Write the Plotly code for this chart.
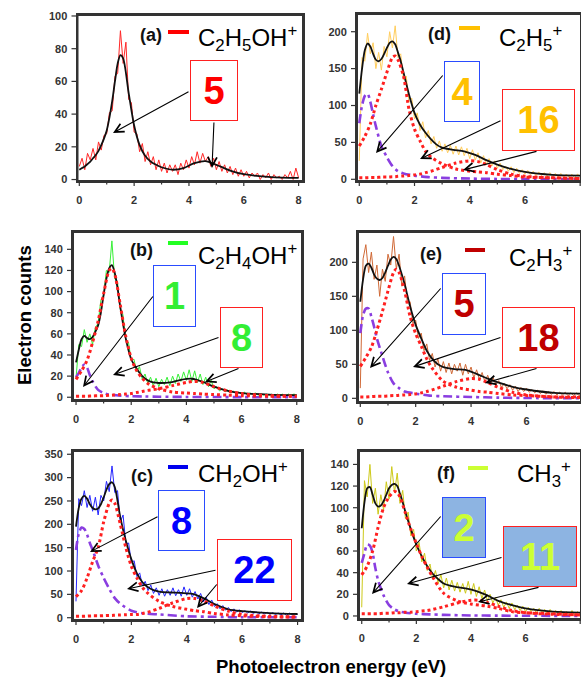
import plotly.graph_objects as go

W, H = 581, 679
FONT = "Liberation Sans, Arial, Helvetica, sans-serif"

# ---------------- data ----------------
raw_energy = [round(i * 0.1, 1) for i in range(81)]
fit_energy = [0, 0.1, 0.2, 0.3, 0.4, 0.5, 0.6, 0.7, 0.8, 0.9, 1.0, 1.1, 1.2, 1.3, 1.4, 1.5, 1.6,
              1.8, 2.0, 2.2, 2.4, 2.6, 2.8, 3.0, 3.4, 3.8, 4.2, 4.6, 5.0, 5.5, 6.0, 7.0, 8.0]
peak_energy = [0, 0.2, 0.4, 0.6, 0.8, 1.0, 1.2, 1.3, 1.4, 1.6, 1.8, 2.0, 2.2, 2.4, 2.6, 3.0,
               3.5, 4.0, 4.3, 4.6, 5.0, 5.5, 6.0, 7.0, 8.0]
low_energy = [0, 0.1, 0.2, 0.3, 0.4, 0.5, 0.6, 0.8, 1.0, 1.2, 1.4, 1.6, 2.0, 2.5, 3.0, 4.0,
              5.0, 6.0, 8.0]

# (a) C2H5OH+
raw_a = [8, 13, 6, 16, 12, 19, 12, 23, 18, 27,
         28, 41, 42, 63, 65, 91, 71, 84, 49, 47,
         29, 28, 17, 22, 11, 17, 9, 14, 6, 12,
         5, 10, 4, 9, 5, 9, 3, 10, 6, 12,
         7, 14, 9, 17, 10, 16, 11, 14, 8, 13,
         6, 11, 5, 9, 4, 8, 3, 7, 2, 6,
         2, 5, 1, 4, 2, 4, 0, 3, 1, 4,
         0, 3, 1, 2, 0, 3, 1, 5, 0, 7,
         1]
fit_a = [6, 7, 8, 9.5, 11, 13, 15, 17.5, 21, 25, 30, 38, 48, 60, 71, 76, 74,
         53, 33, 21, 14.5, 11, 9, 7.5, 6, 7, 10, 11.3, 9, 5.5, 3.3, 1.5, 1]

# (b) C2H4OH+
raw_b = [18, 50, 48, 64, 52, 60, 50, 66, 70, 92,
         96, 120, 118, 148, 112, 110, 84, 78, 54, 52,
         35, 36, 24, 29, 17, 22, 13, 19, 11, 18,
         10, 17, 12, 19, 11, 20, 13, 22, 15, 24,
         16, 26, 15, 25, 14, 22, 12, 19, 10, 16,
         8, 10, 6, 8, 5, 7, 4, 6, 3, 5,
         3, 5, 2, 4, 3, 4, 2, 3, 2, 3,
         2, 3, 1, 3, 2, 3, 1, 3, 2, 3,
         2]
fit_b = [33, 45, 55, 58, 56, 55, 57, 62, 68, 80, 97, 112, 122, 125, 118, 104, 86,
         56, 36, 27, 20, 16, 14, 13.5, 14, 16.5, 17.5, 14.5, 10, 6, 4, 2.5, 2]
big_b = [17, 25, 35, 52, 72, 98, 120, 122, 117, 88, 58, 37, 25, 18, 13, 8, 5, 4, 3.5, 3,
         2.5, 2, 1.5, 1, 1]
small_b = [1, 1, 1, 1.2, 1.4, 1.5, 1.8, 2, 2.2, 2.6, 3, 3.5, 4.5, 5.5, 6.5, 8, 11, 14, 15,
           14, 10, 6, 3.5, 1.5, 1]
low_b = [19, 23, 28, 31, 28, 21, 15, 7, 4, 2.5, 2, 1.5, 1, 0.7, 0.5, 0.3, 0.2, 0.1, 0]

# (c) CH2OH+
raw_c = [35, 255, 240, 272, 236, 262, 228, 258, 220, 262,
         250, 292, 270, 325, 268, 272, 205, 220, 158, 160,
         118, 122, 88, 96, 68, 78, 58, 70, 52, 64,
         48, 62, 46, 60, 48, 64, 47, 60, 46, 66,
         48, 62, 44, 56, 40, 52, 34, 44, 28, 38,
         24, 30, 19, 26, 16, 22, 13, 19, 12, 17,
         11, 15, 10, 14, 9, 13, 8, 12, 8, 12,
         7, 11, 7, 10, 6, 10, 5, 10, 6, 9,
         7]
fit_c = [195, 235, 255, 261, 255, 243, 235, 232, 234, 243, 258, 274, 286, 290, 280, 250, 215,
         165, 125, 95, 76, 65, 59, 56, 54, 53, 51, 42, 29, 18, 14, 10, 8]
big_c = [45, 58, 85, 120, 150, 205, 245, 252, 245, 200, 150, 110, 85, 65, 52, 35, 24, 18, 15,
         13, 9, 6, 4, 2, 1]
small_c = [3, 3, 3.5, 4, 4, 4.5, 5, 5, 5.5, 6, 6.5, 7, 7, 9, 12, 20, 32, 41, 41, 36, 25, 14,
           7, 3, 2]
low_c = [145, 180, 193, 190, 178, 160, 145, 112, 85, 62, 42, 30, 15, 9, 7, 3, 2, 1, 1]

# (d) C2H5+
raw_d = [25, 165, 160, 198, 170, 185, 150, 172, 148, 180,
         166, 200, 178, 208, 165, 170, 135, 140, 105, 110,
         82, 90, 66, 78, 56, 66, 48, 58, 42, 52,
         38, 48, 36, 46, 34, 45, 33, 44, 32, 42,
         28, 40, 26, 36, 22, 32, 20, 28, 18, 25,
         15, 22, 13, 18, 11, 17, 9, 15, 8, 13,
         7, 12, 6, 11, 5, 10, 5, 9, 4, 9,
         4, 8, 3, 8, 3, 7, 3, 7, 2, 7,
         4]
fit_d = [116, 150, 175, 184, 180, 170, 162, 160, 163, 170, 178, 185, 187, 183, 172, 160, 145,
         115, 90, 74, 63, 54, 47, 43, 40, 38, 33, 26, 20, 14, 10, 6, 5]
big_d = [45, 58, 75, 100, 122, 145, 165, 167, 162, 140, 95, 68, 52, 38, 30, 21, 14, 11, 10, 9,
         7, 5, 3, 2, 1]
small_d = [2, 2, 2.5, 2.5, 3, 3, 3.5, 3.5, 4, 4.5, 5, 6, 7, 9, 11, 16, 22, 25, 24, 20, 13, 7,
           4, 2, 1]
low_d = [76, 100, 113, 116, 105, 88, 72, 45, 30, 18, 11, 8, 5, 3, 2, 1, 0.5, 0.3, 0]

# (e) C2H3+
raw_e = [15, 205, 226, 185, 215, 175, 196, 150, 190, 172,
         212, 196, 238, 190, 212, 165, 180, 140, 142, 110,
         115, 88, 96, 70, 80, 56, 66, 46, 58, 40,
         54, 38, 52, 36, 50, 40, 52, 34, 50, 36,
         46, 30, 42, 28, 38, 24, 34, 22, 30, 20,
         26, 16, 22, 14, 20, 12, 18, 10, 16, 10,
         15, 9, 13, 8, 12, 7, 11, 6, 10, 6,
         10, 5, 9, 5, 9, 4, 8, 4, 8, 4,
         7]
fit_e = [142, 175, 195, 198, 192, 182, 176, 174, 177, 185, 195, 204, 208, 205, 195, 182, 168,
         135, 108, 88, 70, 58, 50, 46, 43, 42, 36, 29, 23, 17, 13, 8, 7]
big_e = [47, 60, 75, 100, 128, 158, 185, 190, 185, 158, 120, 95, 77, 58, 44, 25, 16, 12, 10, 9,
         7, 5, 4, 2, 2]
small_e = [2, 2, 2.5, 3, 3, 3.5, 4, 4, 4.5, 5, 5.5, 6.5, 8, 10, 12.5, 18, 25, 29, 28, 23, 16,
           9, 5, 2, 1]
low_e = [96, 122, 132, 132, 120, 105, 88, 62, 38, 22, 15, 10, 7, 4, 3, 2, 1, 0.5, 0]

# (f) CH3+
raw_f = [8, 125, 110, 140, 104, 118, 94, 112, 98, 124,
         108, 138, 114, 132, 104, 116, 90, 96, 74, 80,
         60, 68, 50, 58, 42, 48, 34, 42, 30, 38,
         26, 35, 24, 33, 23, 31, 22, 30, 21, 32,
         20, 30, 18, 27, 16, 24, 14, 20, 12, 17,
         10, 15, 8, 13, 7, 12, 6, 10, 5, 9,
         4, 8, 4, 7, 3, 7, 3, 6, 2, 6,
         2, 5, 2, 5, 1, 4, 1, 5, 1, 4,
         2]
fit_f = [81, 105, 118, 119, 112, 104, 101, 102, 106, 112, 118, 121, 122, 120, 113, 105, 96,
         80, 66, 55, 46, 39, 34, 30, 27, 25.5, 23, 19, 14, 10, 7, 4, 3]
big_f = [38, 46, 60, 82, 100, 110, 115, 114, 110, 95, 80, 67, 55, 45, 36, 21, 14, 11, 10, 9,
         7, 4, 3, 2, 1]
small_f = [2, 2, 2, 2, 2.5, 2.5, 3, 3, 3, 3.5, 3.5, 4, 4.5, 5, 6, 8.5, 12, 14.5, 14.5, 12.5,
           9, 5, 3, 1.5, 1]
low_f = [49, 58, 66, 65, 58, 44, 33, 19, 10, 6, 4, 3, 2, 1.5, 1, 0.5, 0.3, 0.2, 0]

panel_labels = ["(a)", "(b)", "(c)", "(d)", "(e)", "(f)"]
ion_labels = ["C<sub>2</sub>H<sub>5</sub>OH<sup>+</sup>", "C<sub>2</sub>H<sub>4</sub>OH<sup>+</sup>",
              "CH<sub>2</sub>OH<sup>+</sup>", "C<sub>2</sub>H<sub>5</sub><sup>+</sup>",
              "C<sub>2</sub>H<sub>3</sub><sup>+</sup>", "CH<sub>3</sub><sup>+</sup>"]
low_numbers = [None, "1", "8", "4", "5", "2"]
high_numbers = ["5", "8", "22", "16", "18", "11"]
y_dticks = [20, 20, 50, 50, 50, 20]
x_major = [0, 2, 4, 6, 8]
x_minor = [1, 3, 5, 7]

# ---------------- layout helpers ----------------
def px(x):
    return x / W

def py(y):
    return 1 - y / H

panels = [
    dict(raw=raw_a, fit=fit_a, big=None, small=None, low=None,
         raw_color="#ff1010", bar_color="#ff0000", num_color="#ff0000",
         dom=(77.5, 303, 15, 181), xr=(-0.066, 8.16), yr=(-0.9, 100.6),
         label=(151, 35), bar=(168, 189, 32), ion=(196, 38),
         boxes=[(190, 238, 60, 121, "red")],
         arrows=[(113, 133, 190, 91), (212, 168, 214, 121)]),
    dict(raw=raw_b, fit=fit_b, big=big_b, small=small_b, low=low_b,
         raw_color="#22ee22", bar_color="#22ff22", num_color="#33ee33",
         dom=(73, 302, 232, 400), xr=(-0.11, 8.19), yr=(-2.6, 156.4),
         label=(141, 250), bar=(168, 188, 243), ion=(196, 256),
         boxes=[(153, 196, 265, 327, "blue"), (220, 263, 307, 368, "red")],
         arrows=[(83, 387, 154, 295), (113, 375, 220, 337), (205, 382, 240, 368)]),
    dict(raw=raw_c, fit=fit_c, big=big_c, small=small_c, low=low_c,
         raw_color="#1010ff", bar_color="#0000ee", num_color="#0000ff",
         dom=(73, 302, 451, 620), xr=(-0.108, 8.16), yr=(-4.9, 357),
         label=(142, 476), bar=(168, 188, 467), ion=(196, 474),
         boxes=[(158, 205, 490, 551, "blue"), (217, 292, 539, 601, "red")],
         arrows=[(90, 552, 159, 516), (127, 589, 217, 570), (197, 608, 218, 583)]),
    dict(raw=raw_d, fit=fit_d, big=big_d, small=small_d, low=low_d,
         raw_color="#ffc84a", bar_color="#ffc000", num_color="#ffc000",
         dom=(357, 581, 14, 181), xr=(-0.083, 8.03), yr=(-2.3, 224),
         label=(439, 34), bar=(459, 480, 28), ion=(497, 38),
         boxes=[(444, 480, 61, 122, "blue"), (502, 575, 89, 151, "red")],
         arrows=[(376, 153, 444, 74), (420, 159, 502, 120), (463, 170, 538, 151)]),
    dict(raw=raw_e, fit=fit_e, big=big_e, small=small_e, low=low_e,
         raw_color="#cc5a22", bar_color="#c00000", num_color="#c00000",
         dom=(358, 581, 232, 402), xr=(-0.083, 7.97), yr=(-5.4, 244.6),
         label=(431, 254), bar=(465, 485, 250), ion=(507, 258),
         boxes=[(442, 486, 273, 335, "blue"), (502, 575, 307, 368, "red")],
         arrows=[(370, 368, 442, 287), (413, 367, 502, 337), (485, 383, 538, 368)]),
    dict(raw=raw_f, fit=fit_f, big=big_f, small=small_f, low=low_f,
         raw_color="#c8c400", bar_color="#ccff33", num_color="#ccff33",
         dom=(359, 581, 451, 619), xr=(-0.1, 8.03), yr=(-2.8, 152.4),
         label=(446, 473), bar=(468, 488, 468), ion=(515, 474),
         boxes=[(442, 486, 497, 558, "blue"), (503, 577, 526, 587, "red")],
         arrows=[(372, 594, 442, 515), (407, 584, 503, 557), (478, 602, 540, 587)]),
]

fig = go.Figure()
annotations = []
shapes = []
layout_axes = {}
FRAME = "#333333"

# frame / tick paths in page-pixel space (drawn on a full-page overlay axis pair)
frame_x, frame_y = [], []
tick_x, tick_y = [], []

def seg(xs, ys, a, b, c, d):
    xs.extend([a, c, None])
    ys.extend([b, d, None])

for i, p in enumerate(panels):
    n = "" if i == 0 else str(i + 1)
    xa, ya = "x" + n, "y" + n
    fig.add_trace(go.Scatter(x=raw_energy, y=p["raw"], mode="lines", xaxis=xa, yaxis=ya,
                             line=dict(color=p["raw_color"], width=1), opacity=0.9,
                             hoverinfo="skip"))
    fig.add_trace(go.Scatter(x=fit_energy, y=p["fit"], mode="lines", xaxis=xa, yaxis=ya,
                             line=dict(color="#111111", width=1.8, shape="spline", smoothing=0.8)))
    if p["low"] is not None:
        fig.add_trace(go.Scatter(x=low_energy, y=p["low"], mode="lines", xaxis=xa, yaxis=ya,
                                 line=dict(color="#8a3ee0", width=2.6, dash="9px,4px,3px,4px",
                                           shape="spline", smoothing=0.8)))
        fig.add_trace(go.Scatter(x=peak_energy, y=p["big"], mode="lines", xaxis=xa, yaxis=ya,
                                 line=dict(color="#ff2020", width=3, dash="3px,3px",
                                           shape="spline", smoothing=0.8)))
        fig.add_trace(go.Scatter(x=peak_energy, y=p["small"], mode="lines", xaxis=xa, yaxis=ya,
                                 line=dict(color="#ff2020", width=3, dash="3px,3px",
                                           shape="spline", smoothing=0.8)))

    x0, x1, yt, yb = p["dom"]
    xr0, xr1 = p["xr"]
    yr0, yr1 = p["yr"]
    axis_common = dict(showline=True, linecolor=FRAME, linewidth=2, mirror=True,
                       ticks="outside", tickcolor="rgba(0,0,0,0)", tickwidth=1,
                       showgrid=False, zeroline=False, automargin=False, fixedrange=True,
                       tickfont=dict(family=FONT, size=11, color="#333333", weight="bold"))
    layout_axes["xaxis" + n] = dict(axis_common, domain=[px(x0), px(x1)], range=[xr0, xr1],
                                    anchor=ya, tickmode="array", tickvals=x_major,
                                    ticklen=5, ticklabelstandoff=3)
    y_major = [v for v in range(0, int(yr1) + 1, y_dticks[i])]
    layout_axes["yaxis" + n] = dict(axis_common, domain=[py(yb), py(yt)], range=[yr0, yr1],
                                    anchor=xa, tickmode="array", tickvals=y_major, ticklen=6)

    # frame and tick marks, positioned from each panel's axis mapping
    seg(frame_x, frame_y, x0, yt, x1, yt)
    seg(frame_x, frame_y, x0, yb, x1, yb)
    seg(frame_x, frame_y, x0, yt, x0, yb)
    seg(frame_x, frame_y, x1, yt, x1, yb)
    xpix = lambda v: x0 + (v - xr0) / (xr1 - xr0) * (x1 - x0)
    ypix = lambda v: yb - (v - yr0) / (yr1 - yr0) * (yb - yt)
    for v in x_major:
        if v <= xr1:
            seg(tick_x, tick_y, xpix(v), yb, xpix(v), yb + 5)
    for v in x_minor:
        seg(tick_x, tick_y, xpix(v), yb, xpix(v), yb + 3.5)
    for v in y_major:
        seg(tick_x, tick_y, x0, ypix(v), x0 - 6, ypix(v))

    # panel label, legend bar, ion formula
    lx, ly = p["label"]
    annotations.append(dict(text="<b>" + panel_labels[i] + "</b>", x=px(lx), y=py(ly),
                            xref="paper", yref="paper", showarrow=False,
                            xanchor="center", yanchor="middle",
                            font=dict(family=FONT, size=18, color="#111111")))
    bx0, bx1, by = p["bar"]
    shapes.append(dict(type="line", xref="paper", yref="paper", x0=px(bx0), x1=px(bx1),
                       y0=py(by), y1=py(by), line=dict(color=p["bar_color"], width=4)))
    ix, iy = p["ion"]
    annotations.append(dict(text=ion_labels[i], x=px(ix), y=py(iy), xref="paper", yref="paper",
                            showarrow=False, xanchor="left", yanchor="middle",
                            font=dict(family=FONT, size=24, color="#000000")))

    # number boxes
    nums = [high_numbers[i]] if i == 0 else [low_numbers[i], high_numbers[i]]
    for (bx0_, bx1_, by0_, by1_, kind), num in zip(p["boxes"], nums):
        annotations.append(dict(text="<b>" + num + "</b>",
                                x=px((bx0_ + bx1_) / 2), y=py((by0_ + by1_) / 2),
                                xref="paper", yref="paper", showarrow=False,
                                xanchor="center", yanchor="middle",
                                width=bx1_ - bx0_ - 2, height=by1_ - by0_ - 2,
                                borderpad=0, borderwidth=1,
                                bordercolor="#2a4cff" if kind == "blue" else "#ff2020",
                                bgcolor="#8db4e2" if i == 5 else "#ffffff",
                                align="center", valign="middle",
                                font=dict(family=FONT, size=38, color=p["num_color"])))
    for tx, ty, sx, sy in p["arrows"]:
        annotations.append(dict(text="", x=px(tx), y=py(ty), xref="paper", yref="paper",
                                axref="pixel", ayref="pixel", ax=sx - tx, ay=sy - ty,
                                showarrow=True, arrowhead=5, arrowsize=1.6, arrowwidth=1.1,
                                arrowcolor="#000000", standoff=0, startstandoff=0))

# full-page overlay axes (pixel space) carrying the frames and tick marks
fig.add_trace(go.Scatter(x=frame_x, y=frame_y, mode="lines", xaxis="x7", yaxis="y7",
                         line=dict(color=FRAME, width=2), hoverinfo="skip", cliponaxis=False))
fig.add_trace(go.Scatter(x=tick_x, y=tick_y, mode="lines", xaxis="x7", yaxis="y7",
                         line=dict(color=FRAME, width=1.2), hoverinfo="skip", cliponaxis=False))
layout_axes["xaxis7"] = dict(domain=[0, 1], range=[0, W], visible=False, fixedrange=True,
                             anchor="y7", automargin=False)
layout_axes["yaxis7"] = dict(domain=[0, 1], range=[H, 0], visible=False, fixedrange=True,
                             anchor="x7", automargin=False)

annotations.append(dict(text="<b>Electron counts</b>", x=px(24), y=py(315), xref="paper",
                        yref="paper", showarrow=False, textangle=-90,
                        xanchor="center", yanchor="middle",
                        font=dict(family=FONT, size=18.5, color="#000000")))
annotations.append(dict(text="<b>Photoelectron energy (eV)</b>", x=px(331), y=py(666),
                        xref="paper", yref="paper", showarrow=False,
                        xanchor="center", yanchor="middle",
                        font=dict(family=FONT, size=18.5, color="#000000")))

fig.update_layout(template="none", width=W, height=H, margin=dict(l=0, r=0, t=0, b=0),
                  paper_bgcolor="white", plot_bgcolor="rgba(0,0,0,0)", showlegend=False,
                  annotations=annotations, shapes=shapes, **layout_axes)

fig.write_html("out.html", config={"displayModeBar": False},
               post_script="document.body.style.margin='0';document.body.style.padding='0';")
